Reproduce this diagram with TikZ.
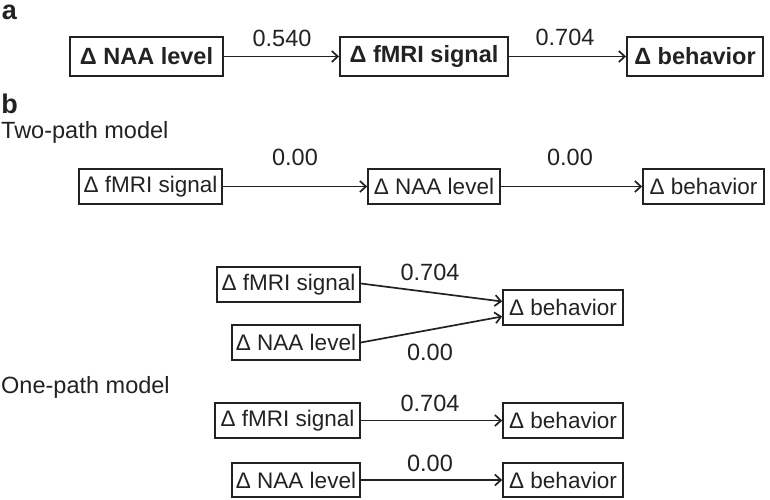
\documentclass[tikz,border=0pt]{standalone}
\usepackage{fontspec}
\setmainfont{Liberation Sans}
\usetikzlibrary{arrows.meta}
\definecolor{ink}{HTML}{222222}
\tikzset{
  box/.style={draw=ink, line width=1.7pt, inner sep=0pt, text=ink, font=\fontsize{22.5}{24}\selectfont},
  boxa/.style={box, line width=1.9pt, font=\fontsize{23.5}{25}\selectfont\bfseries},
  lab/.style={text=ink, font=\fontsize{23.5}{25}\selectfont, inner sep=0pt},
  conn/.style={draw=ink, line width=1.7pt, -{Straight Barb[length=6pt,width=11pt,line width=1.7pt]}},
  panel/.style={text=ink, font=\fontsize{27}{29}\selectfont\bfseries, inner sep=0pt},
  title/.style={text=ink, font=\fontsize{23.5}{25}\selectfont, inner sep=0pt, anchor=west}
}
\begin{document}
\begin{tikzpicture}[x=1pt,y=-1pt]
\useasboundingbox (0,0) rectangle (770,499);
% panel a
\node[panel] (pa) at (9.5,12) {a};
\node[boxa, minimum width=153pt, minimum height=39pt] (a1) at (146.5,56.5) {Δ NAA level};
\node[boxa, minimum width=168pt, minimum height=39pt] (a2) at (424,56.5) {Δ fMRI signal};
\node[boxa, minimum width=136pt, minimum height=39pt] (a3) at (695,56.5) {Δ behavior};
\draw[conn] (a1) -- (a2);
\draw[conn] (a2) -- (a3);
\node[lab] (la1) at (282,38) {0.540};
\node[lab] (la2) at (565,37) {0.704};
% panel b
\node[panel] (pb) at (9.5,104) {b};
\node[title] (t2) at (1,132) {Two-path model};
\node[box, minimum width=143pt, minimum height=35pt] (t1) at (150.5,186.5) {Δ fMRI signal};
\node[box, minimum width=132pt, minimum height=35pt] (tn) at (434,186.5) {Δ NAA level};
\node[box, minimum width=121pt, minimum height=35pt] (tb) at (703.5,186.5) {Δ behavior};
\draw[conn] (t1) -- (tn);
\draw[conn] (tn) -- (tb);
\node[lab] (lt1) at (295,157) {0.00};
\node[lab] (lt2) at (570,157) {0.00};
% middle
\node[box, minimum width=143pt, minimum height=35pt] (m1) at (288.5,284.5) {Δ fMRI signal};
\node[box, minimum width=128pt, minimum height=35pt] (m2) at (296,342.5) {Δ NAA level};
\node[box, minimum width=120pt, minimum height=35pt] (m3) at (563,307.5) {Δ behavior};
\coordinate (m3a) at ([yshift=6pt]m3.west);
\coordinate (m3b) at ([yshift=-9pt]m3.west);
\draw[conn] ([yshift=1pt]m1.east) -- (m3a);
\draw[conn] (m2.east) -- (m3b);
\node[lab] (lm1) at (430,272) {0.704};
\node[lab] (lm2) at (430,352) {0.00};
% one-path
\node[title] (t1m) at (1,387) {One-path model};
\node[box, minimum width=145pt, minimum height=35pt] (o1) at (287.5,420.5) {Δ fMRI signal};
\node[box, minimum width=120pt, minimum height=35pt] (o2) at (563,420.5) {Δ behavior};
\node[box, minimum width=128pt, minimum height=34pt] (o3) at (296,480) {Δ NAA level};
\node[box, minimum width=120pt, minimum height=34pt] (o4) at (563,480) {Δ behavior};
\draw[conn] (o1) -- (o2);
\draw[conn] (o3) -- (o4);
\node[lab] (lo1) at (430,403) {0.704};
\node[lab] (lo2) at (430,463) {0.00};
\end{tikzpicture}
\end{document}
